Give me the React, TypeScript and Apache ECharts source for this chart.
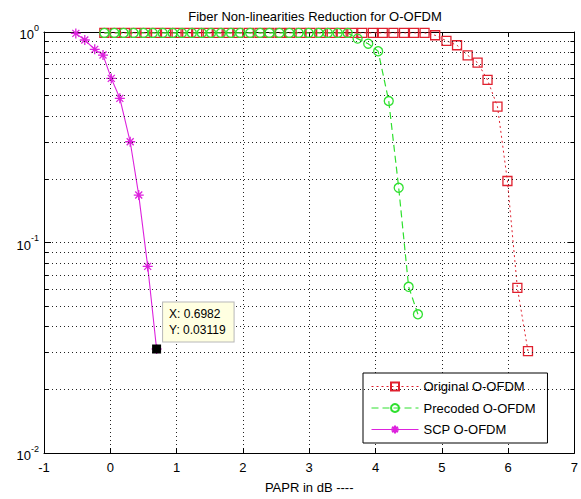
import React, { useEffect, useRef } from "react";
import * as echarts from "echarts";

const TITLE = "Fiber Non-linearities Reduction for O-OFDM";
const X_NAME = "PAPR in dB ----";
const SERIES_NAMES = ["Original O-OFDM", "Precoded O-OFDM", "SCP O-OFDM"];

const origX = [-0.09, 0.07, 0.22, 0.38, 0.53, 0.69, 0.84, 1.0, 1.16, 1.31, 1.47, 1.62, 1.78, 1.93, 2.09, 2.25, 2.4, 2.56, 2.71, 2.87, 3.02, 3.18, 3.34, 3.49, 3.65, 3.8, 3.96, 4.11, 4.27, 4.43, 4.58, 4.74, 4.9, 5.07, 5.23, 5.39, 5.54, 5.69, 5.84, 5.99, 6.14, 6.3];
const origY = [0.99, 0.99, 0.99, 0.99, 0.99, 0.99, 0.99, 0.99, 0.99, 0.99, 0.99, 0.99, 0.99, 0.99, 0.99, 0.99, 0.99, 0.99, 0.99, 0.99, 0.99, 0.99, 0.99, 0.99, 0.99, 0.99, 0.99, 0.99, 0.99, 0.99, 0.99, 0.99, 0.965, 0.908, 0.865, 0.775, 0.715, 0.592, 0.442, 0.196, 0.0609, 0.0305];

const precX = [-0.09, 0.06, 0.2, 0.35, 0.5, 0.64, 0.79, 0.94, 1.08, 1.23, 1.38, 1.52, 1.67, 1.82, 1.96, 2.11, 2.26, 2.4, 2.55, 2.7, 2.84, 2.99, 3.14, 3.28, 3.43, 3.58, 3.73, 3.89, 4.04, 4.2, 4.35, 4.5, 4.64];
const precY = [0.99, 0.99, 0.99, 0.99, 0.99, 0.99, 0.99, 0.99, 0.99, 0.99, 0.99, 0.99, 0.99, 0.99, 0.99, 0.99, 0.99, 0.99, 0.99, 0.99, 0.99, 0.99, 0.99, 0.99, 0.99, 0.99, 0.93, 0.88, 0.81, 0.47, 0.182, 0.0616, 0.0456];

const scpX = [-0.52, -0.385, -0.235, -0.11, 0.015, 0.144, 0.3, 0.429, 0.564, 0.6982];
const scpY = [0.985, 0.916, 0.827, 0.777, 0.602, 0.484, 0.301, 0.168, 0.077, 0.03119];

const minorY = [0.02, 0.03, 0.04, 0.05, 0.06, 0.07, 0.08, 0.09, 0.2, 0.3, 0.4, 0.5, 0.6, 0.7, 0.8, 0.9];
const yTickLabels: Record<string, string> = { "1": "0", "0.1": "-1", "0.01": "-2" };

const RED = "#e0202e";
const GREEN = "#2fe02f";
const MAGENTA = "#dd22dd";
const FONT = "'Liberation Sans', Arial, Helvetica, sans-serif";

const zip = (xs: number[], ys: number[]) => xs.map((x, i) => [x, ys[i]]);

export default function App() {
  const ref = useRef<HTMLDivElement>(null);
  useEffect(() => {
    if (!ref.current) return;
    const chart = echarts.init(ref.current, undefined, { renderer: "svg" });
    const dotted = { color: "#222", type: [1, 3], width: 1 };
    const axisLine = { show: true, onZero: false, lineStyle: { color: "#000", width: 1 } };
    const xMin = -1, xMax = 7;
    const tickLen = 0.06;
    const lastI = scpX.length - 1;
    const option: any = {
      animation: false,
      backgroundColor: "#fff",
      textStyle: { fontFamily: FONT },
      title: {
        text: TITLE,
        left: 310,
        top: 5,
        textAlign: "center",
        textStyle: { fontSize: 13, fontWeight: "normal", color: "#000", fontFamily: FONT },
      },
      grid: { left: 44, right: 4, top: 32, bottom: 46 },
      legend: {
        data: SERIES_NAMES,
        orient: "vertical",
        left: 363,
        top: 373,
        padding: [7, 12, 7, 8],
        itemGap: 8.5,
        itemWidth: 47,
        itemHeight: 10,
        backgroundColor: "#fff",
        borderColor: "#000",
        borderWidth: 1,
        borderRadius: 0,
        lineStyle: { width: 1 },
        textStyle: { fontSize: 13, color: "#000", fontFamily: FONT },
      },
      xAxis: [
        {
          type: "value",
          min: xMin,
          max: xMax,
          interval: 1,
          position: "bottom",
          name: X_NAME,
          nameLocation: "middle",
          nameGap: 28,
          nameTextStyle: { fontSize: 13, color: "#000", fontFamily: FONT },
          axisLine,
          axisTick: { inside: true, length: 5, lineStyle: { color: "#000" } },
          axisLabel: { fontSize: 13, color: "#000", margin: 8, fontFamily: FONT },
          splitLine: { show: true, lineStyle: dotted },
        },
        {
          type: "value",
          min: xMin,
          max: xMax,
          interval: 1,
          position: "top",
          axisLine,
          axisTick: { inside: true, length: 5, lineStyle: { color: "#000" } },
          axisLabel: { show: false },
          splitLine: { show: false },
        },
      ],
      yAxis: [
        {
          type: "log",
          logBase: 10,
          min: 0.01,
          max: 1,
          position: "left",
          axisLine,
          axisTick: { inside: true, length: 7, lineStyle: { color: "#000" } },
          axisLabel: {
            margin: 5,
            formatter: (v: number) => `{b|10}{s|${yTickLabels[String(v)] ?? ""}}`,
            rich: {
              b: { fontSize: 13, color: "#000", fontFamily: FONT, lineHeight: 18, verticalAlign: "bottom" },
              s: { fontSize: 9, color: "#000", fontFamily: FONT, lineHeight: 10, verticalAlign: "top" },
            },
          },
          splitLine: { show: true, lineStyle: dotted },
        },
        {
          type: "log",
          logBase: 10,
          min: 0.01,
          max: 1,
          position: "right",
          axisLine,
          axisTick: { inside: true, length: 7, lineStyle: { color: "#000" } },
          axisLabel: { show: false },
          splitLine: { show: false },
        },
      ],
      series: [
        {
          name: "grid-minor",
          type: "line",
          data: [],
          silent: true,
          markLine: {
            silent: true,
            symbol: ["none", "none"],
            label: { show: false },
            lineStyle: dotted,
            emphasis: { disabled: true },
            data: minorY.map((v) => ({ yAxis: v })),
          },
        },
        {
          name: "minor-ticks",
          type: "line",
          data: [],
          silent: true,
          markLine: {
            silent: true,
            symbol: ["none", "none"],
            label: { show: false },
            lineStyle: { color: "#000", type: "solid", width: 1 },
            emphasis: { disabled: true },
            data: [
              ...minorY.map((v) => [{ coord: [xMin, v] }, { coord: [xMin + tickLen, v] }]),
              ...minorY.map((v) => [{ coord: [xMax, v] }, { coord: [xMax - tickLen, v] }]),
            ],
          },
        },
        {
          name: SERIES_NAMES[0],
          type: "line",
          data: zip(origX, origY),
          symbol: "rect",
          symbolSize: 9,
          itemStyle: { color: "rgba(255,255,255,0)", borderColor: RED, borderWidth: 1.3 },
          lineStyle: { color: RED, type: [2, 3], width: 1 },
          emphasis: { disabled: true },
        },
        {
          name: SERIES_NAMES[1],
          type: "line",
          data: zip(precX, precY),
          symbol: "circle",
          symbolSize: 9,
          itemStyle: { color: "rgba(255,255,255,0)", borderColor: GREEN, borderWidth: 1.3 },
          lineStyle: { color: GREEN, type: [7, 4], width: 1.2 },
          emphasis: { disabled: true },
        },
        {
          name: SERIES_NAMES[2],
          type: "line",
          data: zip(scpX, scpY),
          symbol: "path://M0,-5L0,5M-5,0L5,0M-3.5,-3.5L3.5,3.5M-3.5,3.5L3.5,-3.5",
          symbolSize: 10,
          itemStyle: { color: "rgba(255,255,255,0)", borderColor: MAGENTA, borderWidth: 1.3 },
          lineStyle: { color: MAGENTA, type: "solid", width: 1.1 },
          emphasis: { disabled: true },
          markPoint: {
            silent: true,
            symbol: "rect",
            symbolSize: 9,
            data: [
              {
                coord: [scpX[lastI], scpY[lastI]],
                itemStyle: { color: "#000" },
                label: {
                  show: true,
                  position: [11, -42],
                  formatter: `X: ${scpX[lastI]}\nY: ${scpY[lastI]}`,
                  backgroundColor: "#ffffe1",
                  borderColor: "#b8b8b8",
                  borderWidth: 1,
                  padding: [3, 8, 4, 6],
                  lineHeight: 16,
                  fontSize: 12,
                  color: "#000",
                  fontFamily: FONT,
                  align: "left",
                  verticalAlign: "top",
                },
              },
            ],
          },
        },
      ],
    };
    chart.setOption(option);
    return () => chart.dispose();
  }, []);
  return (
    <div
      ref={ref}
      style={{ position: "fixed", left: 0, top: 0, width: 581, height: 499, background: "#fff" }}
    />
  );
}
